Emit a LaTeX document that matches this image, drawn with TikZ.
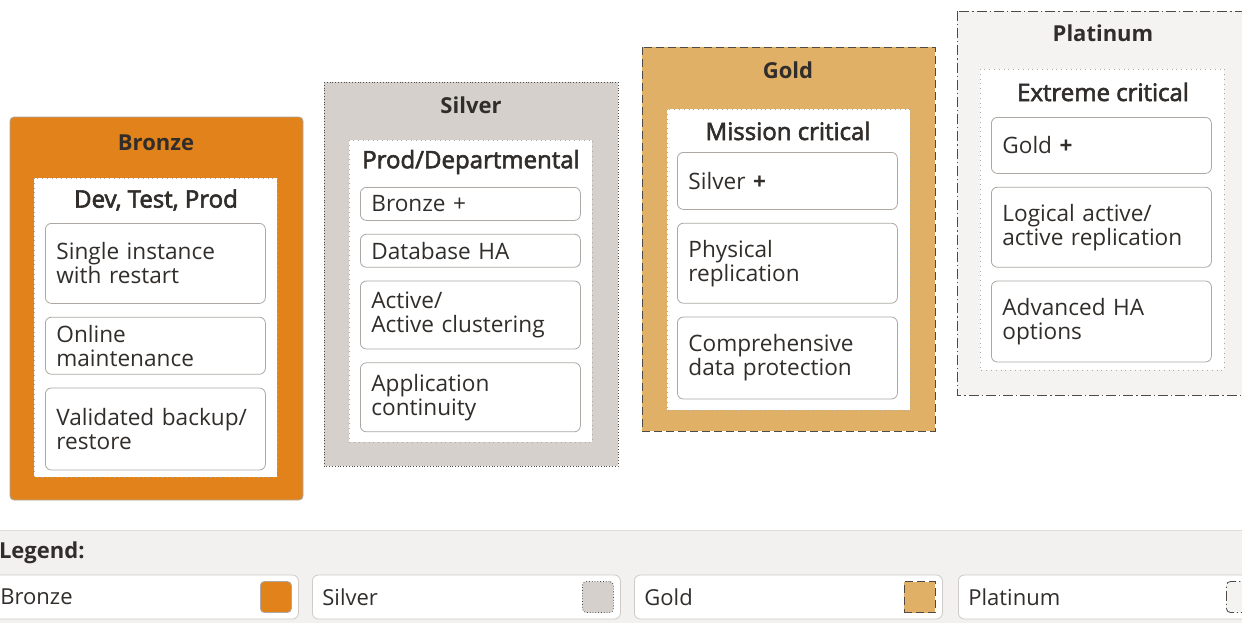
\documentclass[tikz,border=0pt]{standalone}
\usepackage{fontspec}
\setmainfont{Open Sans}
\newfontfamily\semibf{Open Sans}[FakeBold=2.5]
\usetikzlibrary{positioning}
\definecolor{ink}{HTML}{312D2A}
\definecolor{bronze}{HTML}{E2821A}
\definecolor{silver}{HTML}{D5D0CB}
\definecolor{gold}{HTML}{DFB066}
\definecolor{platinum}{HTML}{F4F3F1}
\definecolor{edge}{HTML}{4F4A45}
\definecolor{itemline}{HTML}{ADA8A3}
\definecolor{band}{HTML}{F2F1EF}
\begin{document}
\begin{tikzpicture}[x=0.5pt, y=-0.5pt, font=\fontsize{11.3}{12}\selectfont, text=ink, node distance=6.5pt,
  item/.style={draw=itemline, fill=white, rounded corners=3pt, text width=99pt, inner xsep=5.5pt, inner ysep=0pt, align=left},
  title/.style={font=\fontsize{11}{13}\selectfont\bfseries},
  subtitle/.style={font=\fontsize{12}{14}\selectfont\semibf},
  inbox/.style={draw=itemline, dotted, fill=white},
  key/.style={draw=itemline!60, fill=white, rounded corners=3pt, minimum height=22pt, text width=144pt, inner xsep=5pt, anchor=west, align=left, font=\fontsize{11}{13}\selectfont},
  chip/.style={minimum size=15.5pt, inner sep=0pt, rounded corners=2pt}]
\useasboundingbox (0,0) rectangle (1242,623);
\clip (0,0) rectangle (1242,623);
% Bronze
\draw[itemline, fill=bronze, rounded corners=2pt] (10,117) rectangle (303,500);
\draw[inbox] (34,178) rectangle (277,477);
\node[title] (bronze) at (156,143) {Bronze};
\node[subtitle] (devtest) at (156,200) {Dev, Test, Prod};
\node[item, minimum height=40pt, anchor=north west] (single) at (45,223) {Single instance\\with restart};
\node[item, minimum height=28.5pt, below=of single] (online) {Online\\maintenance};
\node[item, minimum height=41pt, below=of online] (backup) {Validated backup/\\restore};
% Silver
\draw[edge, densely dotted, fill=silver] (324,82) rectangle (618,466);
\draw[inbox] (349,140) rectangle (592,442);
\node[title] (silver) at (471,105) {Silver};
\node[subtitle] (prod) at (471,162) {Prod/Departmental};
\node[item, minimum height=16.5pt, anchor=north west] (bplus) at (360,187) {Bronze +};
\node[item, minimum height=16.5pt, below=of bplus] (dbha) {Database HA};
\node[item, minimum height=34pt, below=of dbha] (cluster) {Active/\\Active clustering};
\node[item, minimum height=34.5pt, below=of cluster] (appcont) {Application\\continuity};
% Gold
\draw[edge, dash pattern=on 4pt off 2pt, fill=gold] (642,47) rectangle (935,431);
\draw[inbox] (667,109) rectangle (910,410);
\node[title] (gold) at (788,70) {Gold};
\node[subtitle] (mission) at (788,131) {Mission critical};
\node[item, minimum height=28.5pt, anchor=north west] (splus) at (677,152) {Silver \textbf{+}};
\node[item, minimum height=40pt, below=of splus] (phys) {Physical\\replication};
\node[item, minimum height=41pt, below=of phys] (protect) {Comprehensive\\data protection};
% Platinum
\draw[edge, dash pattern=on 5pt off 1.5pt on 0.6pt off 1.5pt, fill=platinum] (957,11) rectangle (1250,395);
\draw[inbox] (980,69) rectangle (1224,370);
\node[title] (platinum) at (1103,33) {Platinum};
\node[subtitle] (extreme) at (1103,92) {Extreme critical};
\node[item, minimum height=28pt, anchor=north west] (gplus) at (991,117) {Gold \textbf{+}};
\node[item, minimum height=40pt, below=of gplus] (logical) {Logical active/\\active replication};
\node[item, minimum height=40.5pt, below=of logical] (advha) {Advanced HA\\options};
% Legend
\fill[band] (0,530) rectangle (1242,623);
\draw[itemline!40] (0,530) -- (1242,530);
\node[title, anchor=west] (legend) at (-8,553) {Legend:};
\node[key] (kbronze) at (-10,597) {Bronze};
\node[chip, draw=itemline, fill=bronze, left=3.5pt of kbronze.east] (cbronze) {};
\node[key] (ksilver) at (312,597) {Silver};
\node[chip, draw=edge, densely dotted, fill=silver, left=3.5pt of ksilver.east] (csilver) {};
\node[key] (kgold) at (634,597) {Gold};
\node[chip, draw=edge, dash pattern=on 4pt off 2pt, rounded corners=0pt, fill=gold, left=3.5pt of kgold.east] (cgold) {};
\node[key] (kplatinum) at (958,597) {Platinum};
\node[chip, draw=edge, dash pattern=on 5pt off 1.5pt on 0.6pt off 1.5pt, fill=platinum, anchor=west] (cplatinum) at (1226,597) {};
\end{tikzpicture}
\end{document}
